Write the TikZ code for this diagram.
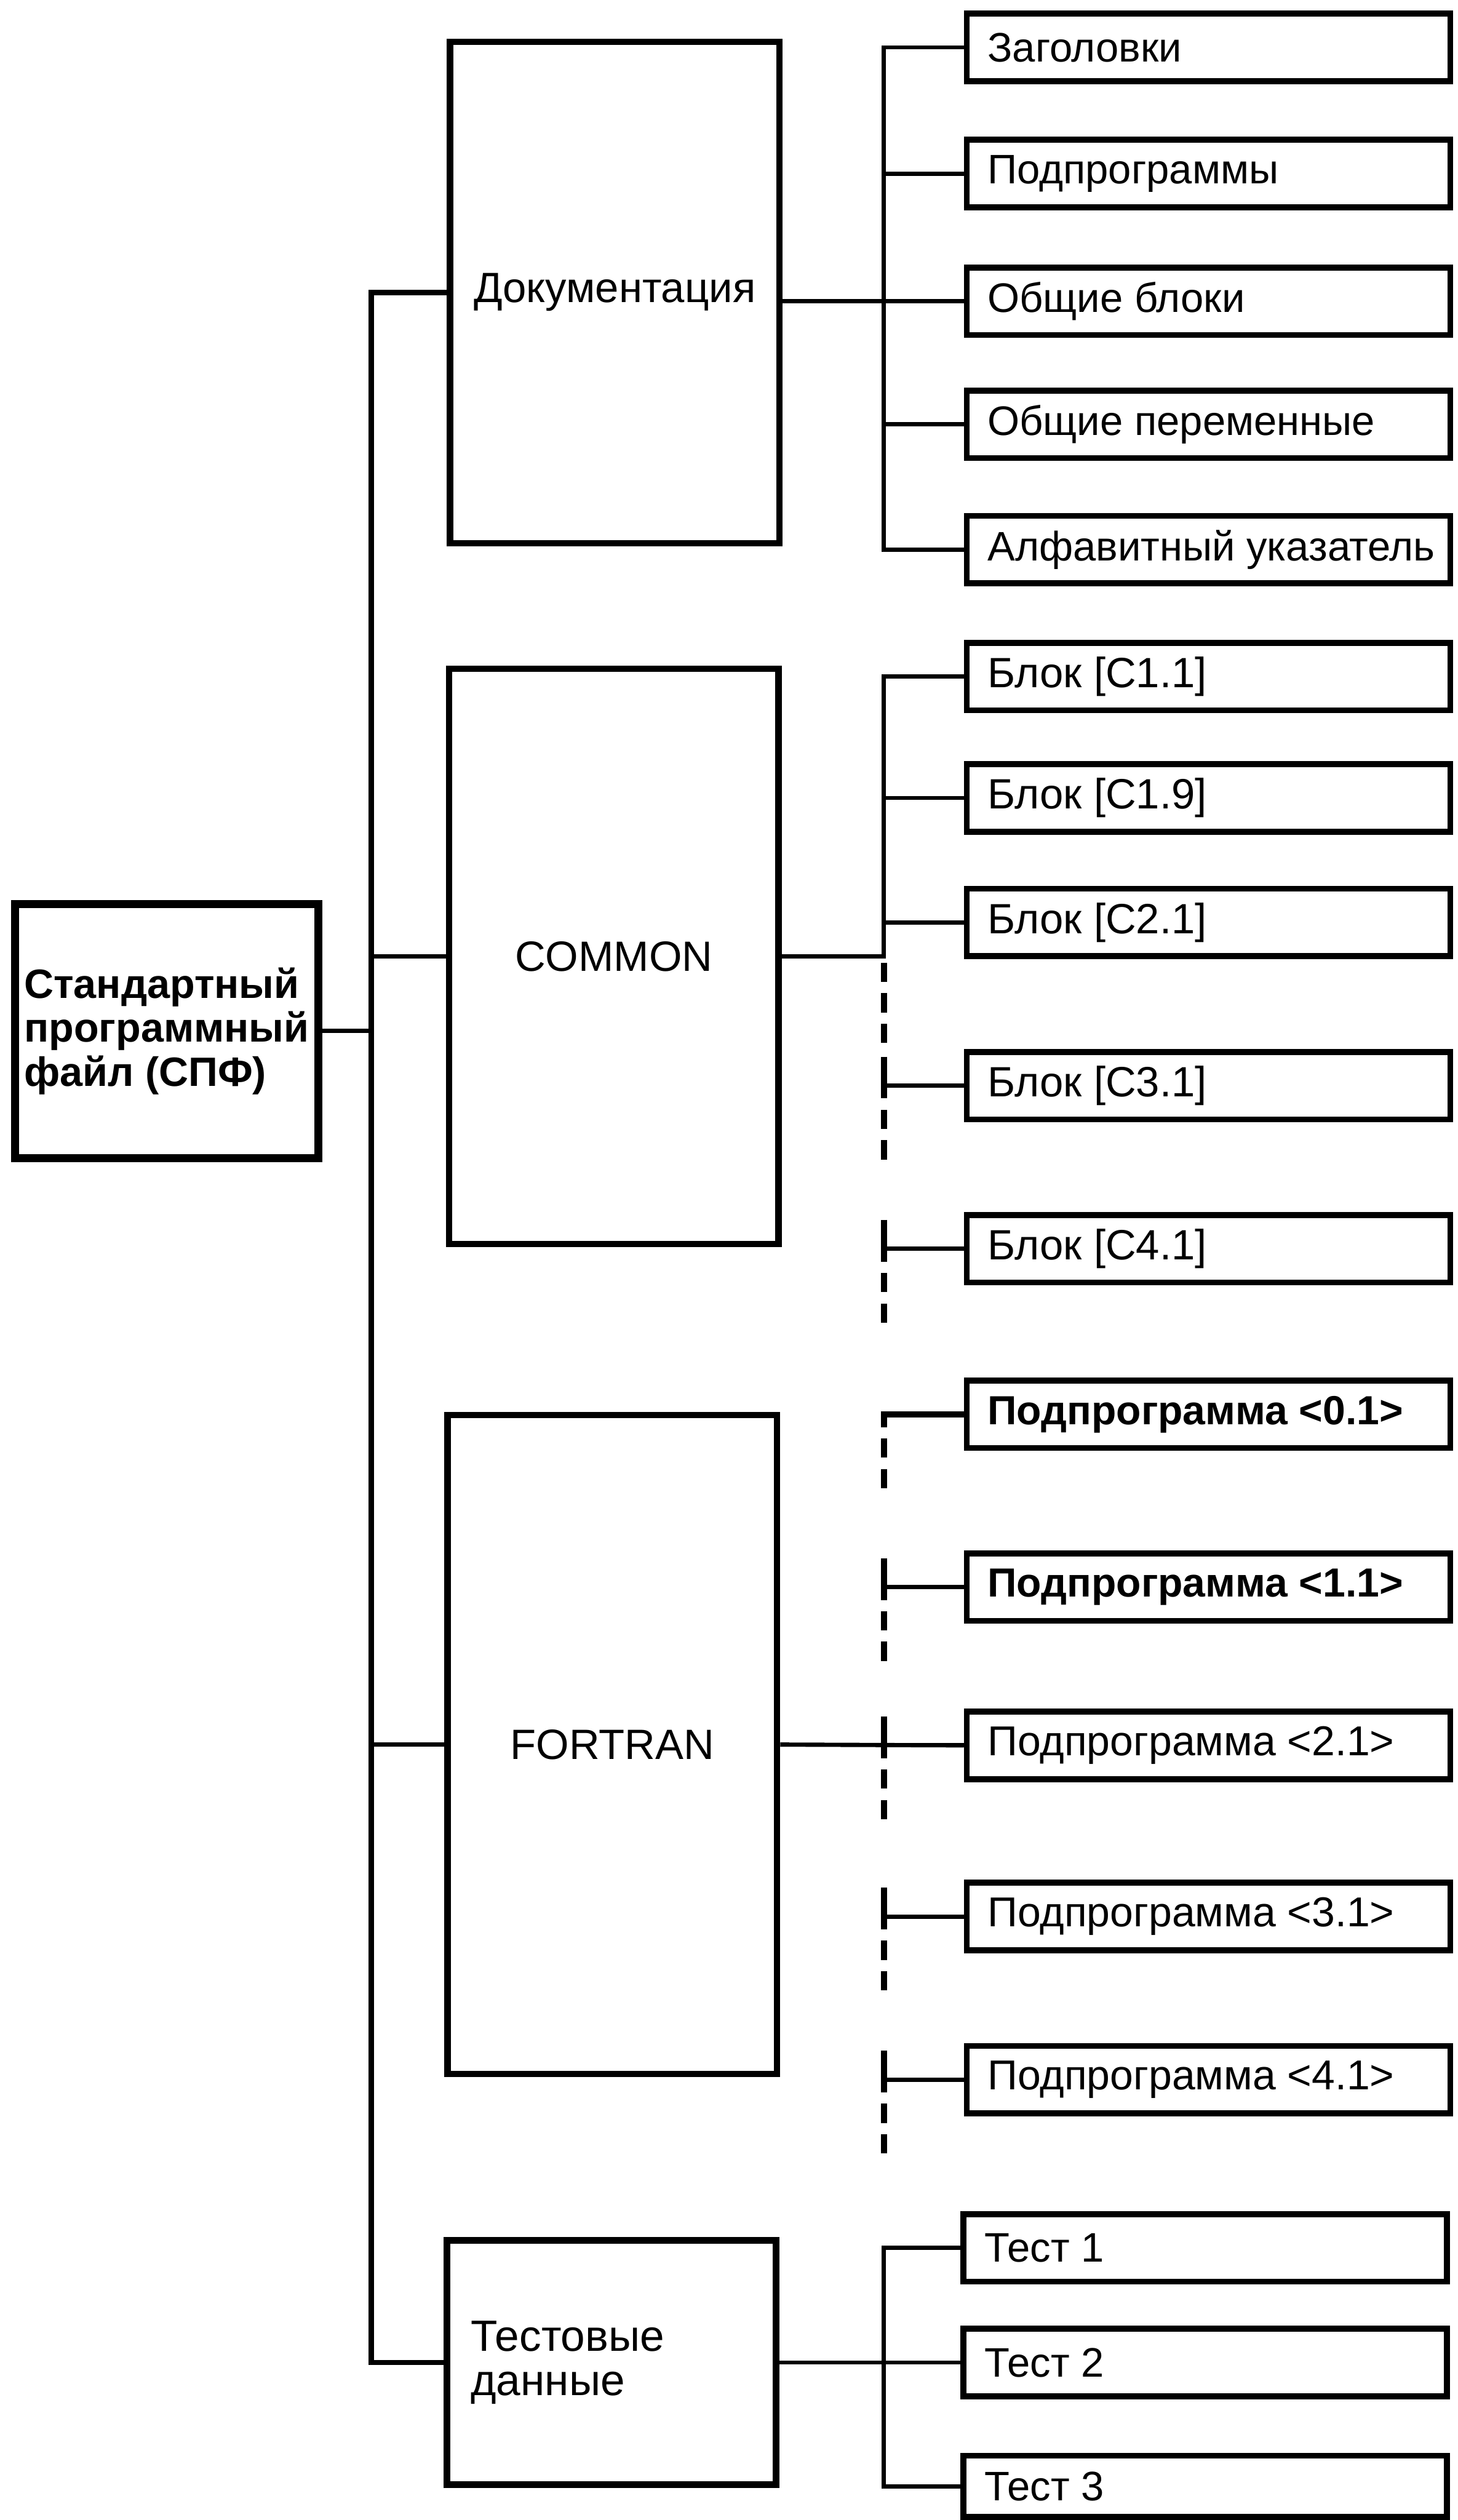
\documentclass[tikz,border=0pt]{standalone}
\usepackage{fontspec}
\setmainfont{Liberation Sans}
\usetikzlibrary{calc}
\newcommand\lefttxt[1]{\makebox[5.5cm][l]{#1}}
\begin{document}
\begin{tikzpicture}[x=0.02cm,y=-0.02cm,
  mainbox/.style={draw, line width=2.3pt, inner sep=0pt, align=center, font=\fontsize{15}{18}\selectfont},
  child/.style={draw, line width=2.1pt, inner sep=0pt, minimum width=6.02cm, minimum height=0.84cm, font=\fontsize{14.6}{17}\selectfont},
  conn/.style={line width=1.5pt},
  trunk/.style={line width=1.9pt},
  tick/.style={line width=2.1pt},
  dsh/.style={line width=2.1pt, dash pattern=on 0.24cm off 0.14cm}]
\useasboundingbox (0,0) rectangle (907,1568);

% main boxes
\node[draw, line width=2.8pt, inner sep=0pt, minimum width=3.78cm, minimum height=3.16cm,
      align=left, font=\bfseries\fontsize{14.5}{15.6}\selectfont] (S) at (103.7,641.5)
      {Стандартный\\программный\\файл (СПФ)};
\node[mainbox, minimum width=4.1cm, minimum height=6.24cm] (D) at (382.5,182) {Документация};
\node[mainbox, minimum width=4.1cm, minimum height=7.16cm] (C) at (382,595) {COMMON};
\node[mainbox, minimum width=4.1cm, minimum height=8.2cm] (F) at (381,1085.5) {FORTRAN};
\node[mainbox, minimum width=4.1cm, minimum height=3.04cm, text width=3.5cm, align=left,
      font=\fontsize{15.5}{15.8}\selectfont] (T) at (380.5,1470) {Тестовые\\данные};

% documentation children
\node[child] (d1) at (752,29.5) {\lefttxt{Заголовки}};
\node[child] (d2) at (752,108) {\lefttxt{Подпрограммы}};
\node[child] (d3) at (752,187.5) {\lefttxt{Общие блоки}};
\node[child] (d4) at (752,264) {\lefttxt{Общие переменные}};
\node[child] (d5) at (752,342) {\lefttxt{Алфавитный указатель}};

% COMMON children
\node[child, font=\fontsize{15}{17}\selectfont] (c1) at (752,421) {\lefttxt{Блок [C1.1]}};
\node[child, font=\fontsize{15}{17}\selectfont] (c2) at (752,496.5) {\lefttxt{Блок [C1.9]}};
\node[child, font=\fontsize{15}{17}\selectfont] (c3) at (752,574) {\lefttxt{Блок [C2.1]}};
\node[child, font=\fontsize{15}{17}\selectfont] (c4) at (752,675.5) {\lefttxt{Блок [C3.1]}};
\node[child, font=\fontsize{15}{17}\selectfont] (c5) at (752,777) {\lefttxt{Блок [C4.1]}};

% FORTRAN children
\node[child, font=\bfseries\fontsize{14.4}{17}\selectfont] (p0) at (752,880) {\lefttxt{Подпрограмма <0.1>}};
\node[child, font=\bfseries\fontsize{14.4}{17}\selectfont] (p1) at (752,987.5) {\lefttxt{Подпрограмма <1.1>}};
\node[child, font=\fontsize{14.8}{17}\selectfont] (p2) at (752,1086) {\lefttxt{Подпрограмма <2.1>}};
\node[child, font=\fontsize{14.8}{17}\selectfont] (p3) at (752,1192.5) {\lefttxt{Подпрограмма <3.1>}};
\node[child, font=\fontsize{14.8}{17}\selectfont] (p4) at (752,1294) {\lefttxt{Подпрограмма <4.1>}};

% test children
\node[child] (t1) at (750,1398.6) {\lefttxt{Тест 1}};
\node[child] (t2) at (750,1470) {\lefttxt{Тест 2}};
\node[child, minimum height=0.76cm] (t3) at (750,1547) {\lefttxt{Тест 3}};

% bus coordinates
\coordinate (tr) at (231,0);
\coordinate (bd) at (550,0);

% trunk
\draw[trunk] (D.west) -- (D.west -| tr) -- (T.west -| tr) -- (T.west);
\draw[conn] (C.west -| tr) -- (C.west);
\draw[conn] (F.west -| tr) -- (F.west);
\draw[conn] (S.east) -- (S.east -| tr);

% documentation bus
\draw[conn] (d1.west) -- (d1.west -| bd) -- (d5.west -| bd) -- (d5.west);
\draw[conn] (d2.west -| bd) -- (d2.west);
\draw[conn] (d4.west -| bd) -- (d4.west);
\draw[conn] (D.east |- d3.west) -- (d3.west);

% COMMON bus
\draw[conn] (c1.west) -- (c1.west -| bd) -- (C.east -| bd) -- (C.east);
\draw[conn] (c2.west -| bd) -- (c2.west);
\draw[conn] (c3.west -| bd) -- (c3.west);
\draw[dsh] ($(C.east -| bd)+(0,4)$) -- ($(c4.west -| bd)+(0,-22)$);
\foreach \n in {c4,c5}{
  \draw[conn] (\n.west -| bd) -- (\n.west);
  \draw[tick] ($(\n.west -| bd)+(0,-18)$) -- ($(\n.west -| bd)+(0,8)$);
  \draw[dsh] ($(\n.west -| bd)+(0,15)$) -- ($(\n.west -| bd)+(0,49)$);
}

% FORTRAN bus (dashed)
\draw[conn] (F.east) -- (p2.west);
\draw[tick] (p0.west) -- (p0.west -| bd) -- ($(p0.west -| bd)+(0,8)$);
\draw[dsh] ($(p0.west -| bd)+(0,15)$) -- ($(p0.west -| bd)+(0,51)$);
\foreach \n in {p1,p2,p3,p4}{
  \draw[conn] (\n.west -| bd) -- (\n.west);
  \draw[tick] ($(\n.west -| bd)+(0,-18)$) -- ($(\n.west -| bd)+(0,8)$);
  \draw[dsh] ($(\n.west -| bd)+(0,15)$) -- ($(\n.west -| bd)+(0,50)$);
}

% tests bus
\draw[conn] (t1.west) -- (t1.west -| bd) -- (t3.west -| bd) -- (t3.west);
\draw[conn] (T.east |- t2.west) -- (t2.west);
\end{tikzpicture}
\end{document}
